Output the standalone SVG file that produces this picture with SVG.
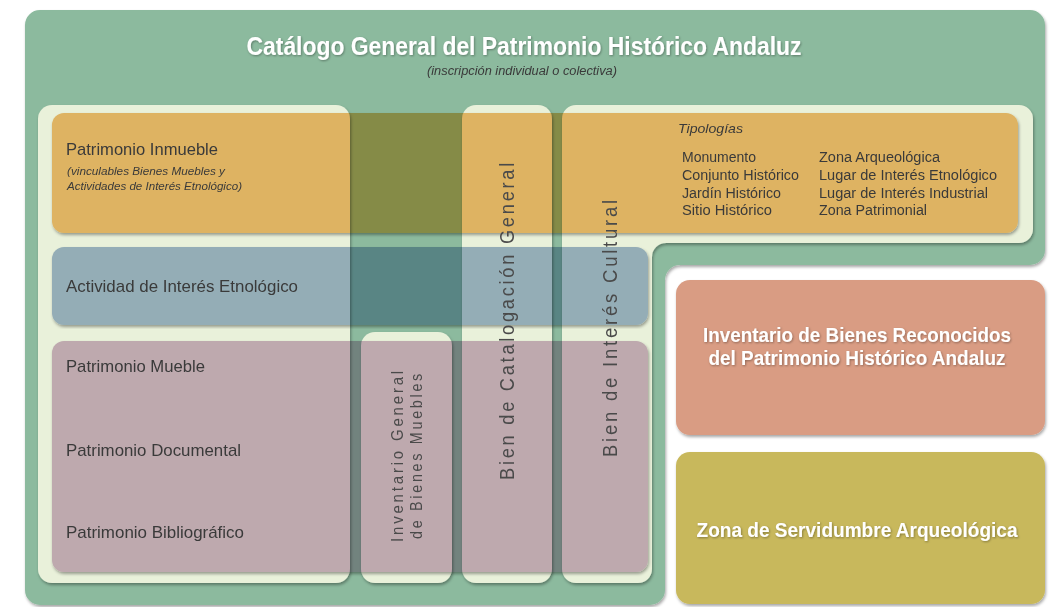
<svg xmlns="http://www.w3.org/2000/svg" width="1053" height="607" viewBox="0 0 1053 607">
<defs>
<filter id="sh" x="-5%" y="-5%" width="110%" height="110%">
<feDropShadow dx="1" dy="2" stdDeviation="1.5" flood-color="#000" flood-opacity="0.35"/>
</filter>
<filter id="tsh" x="-5%" y="-20%" width="110%" height="140%">
<feDropShadow dx="0.8" dy="1" stdDeviation="0.8" flood-color="#000" flood-opacity="0.35"/>
</filter>
</defs>
<style>
.cream{fill:#e9f1da;filter:url(#sh)}
.band{mix-blend-mode:multiply;filter:url(#sh)}
.lbl{font-family:"Liberation Sans",Arial,sans-serif;fill:#3a3a3a}
.big{font-size:17px}
.it{font-style:italic}
.vert{font-family:"Liberation Sans",Arial,sans-serif;fill:#4a4a4a;text-anchor:middle;letter-spacing:3px}
.wt{font-family:"Liberation Sans",Arial,sans-serif;font-weight:bold;fill:#ffffff;text-anchor:middle;filter:url(#tsh)}
.tip{font-size:14px}
</style>
<rect width="1053" height="607" fill="#ffffff"/>

<g id="catalogo-general">
<path d="M40,10 H1030 A15,15 0 0 1 1045,25 V250 A15,15 0 0 1 1030,265 H680 A15,15 0 0 0 665,280 V590 A15,15 0 0 1 650,605 H40 A15,15 0 0 1 25,590 V25 A15,15 0 0 1 40,10 Z" fill="#8cba9e" filter="url(#sh)"/>
<text class="wt" x="524" y="55" font-size="25" textLength="555" lengthAdjust="spacingAndGlyphs">Catálogo General del Patrimonio Histórico Andaluz</text>
<text x="522" y="75" font-family="'Liberation Sans',Arial,sans-serif" font-size="12" font-style="italic" fill="#3a3a3a" text-anchor="middle" textLength="190" lengthAdjust="spacingAndGlyphs">(inscripción individual o colectiva)</text>
</g>

<g id="marco-izquierdo">
<rect class="cream" x="38" y="105" width="312" height="478" rx="14"/>
</g>

<g id="inventario-general-bienes-muebles">
<rect class="cream" x="361" y="332" width="91" height="251" rx="14"/>
</g>

<g id="bien-catalogacion-general">
<rect class="cream" x="462" y="105" width="90" height="478" rx="14"/>
</g>

<g id="bien-interes-cultural">
<path class="cream" d="M576,105 H1019 A14,14 0 0 1 1033,119 V229 A14,14 0 0 1 1019,243 H666 A14,14 0 0 0 652,257 V569 A14,14 0 0 1 638,583 H576 A14,14 0 0 1 562,569 V119 A14,14 0 0 1 576,105 Z"/>
</g>

<g id="patrimonio-inmueble">
<rect class="band" x="52" y="113" width="966" height="120" rx="12" fill="#f3be73"/>
<text class="lbl big" x="66" y="155" textLength="152" lengthAdjust="spacingAndGlyphs">Patrimonio Inmueble</text>
<text class="lbl it" x="67" y="175" font-size="11" textLength="158" lengthAdjust="spacingAndGlyphs">(vinculables Bienes Muebles y</text>
<text class="lbl it" x="67" y="190" font-size="11" textLength="175" lengthAdjust="spacingAndGlyphs">Actividades de Interés Etnológico)</text>
</g>

<g id="actividad-interes-etnologico">
<rect class="band" x="52" y="247" width="596" height="78" rx="12" fill="#a2b7d5"/>
<text class="lbl big" x="66" y="292" textLength="232" lengthAdjust="spacingAndGlyphs">Actividad de Interés Etnológico</text>
</g>

<g id="patrimonio-mueble">
<rect class="band" x="52" y="341" width="596" height="231" rx="12" fill="#d0b3cc"/>
<text class="lbl big" x="66" y="372" textLength="139" lengthAdjust="spacingAndGlyphs">Patrimonio Mueble</text>
<text class="lbl big" x="66" y="456" textLength="175" lengthAdjust="spacingAndGlyphs">Patrimonio Documental</text>
<text class="lbl big" x="66" y="538" textLength="178" lengthAdjust="spacingAndGlyphs">Patrimonio Bibliográfico</text>
</g>

<g id="etiquetas-columnas">
<text class="vert" font-size="16" transform="translate(403,455) rotate(-90)" textLength="174" lengthAdjust="spacingAndGlyphs">Inventario General</text>
<text class="vert" font-size="16" transform="translate(422,455) rotate(-90)" textLength="168" lengthAdjust="spacingAndGlyphs">de Bienes Muebles</text>
<text class="vert" font-size="20" transform="translate(514,320) rotate(-90)" textLength="320" lengthAdjust="spacingAndGlyphs">Bien de Catalogación General</text>
<text class="vert" font-size="20" transform="translate(617,327) rotate(-90)" textLength="260" lengthAdjust="spacingAndGlyphs">Bien de Interés Cultural</text>
</g>

<g id="tipologias">
<text class="lbl it" x="678" y="133" font-size="13" textLength="65" lengthAdjust="spacingAndGlyphs">Tipologías</text>
<text class="lbl tip" x="682" y="162" textLength="74" lengthAdjust="spacingAndGlyphs">Monumento</text>
<text class="lbl tip" x="682" y="180" textLength="117" lengthAdjust="spacingAndGlyphs">Conjunto Histórico</text>
<text class="lbl tip" x="682" y="198" textLength="99" lengthAdjust="spacingAndGlyphs">Jardín Histórico</text>
<text class="lbl tip" x="682" y="215" textLength="90" lengthAdjust="spacingAndGlyphs">Sitio Histórico</text>
<text class="lbl tip" x="819" y="162" textLength="121" lengthAdjust="spacingAndGlyphs">Zona Arqueológica</text>
<text class="lbl tip" x="819" y="180" textLength="178" lengthAdjust="spacingAndGlyphs">Lugar de Interés Etnológico</text>
<text class="lbl tip" x="819" y="198" textLength="169" lengthAdjust="spacingAndGlyphs">Lugar de Interés Industrial</text>
<text class="lbl tip" x="819" y="215" textLength="108" lengthAdjust="spacingAndGlyphs">Zona Patrimonial</text>
</g>

<g id="inventario-bienes-reconocidos">
<rect x="676" y="280" width="369" height="155" rx="14" fill="#d99c83" filter="url(#sh)"/>
<text class="wt" x="857" y="342" font-size="21" textLength="308" lengthAdjust="spacingAndGlyphs">Inventario de Bienes Reconocidos</text>
<text class="wt" x="857" y="365" font-size="21" textLength="297" lengthAdjust="spacingAndGlyphs">del Patrimonio Histórico Andaluz</text>
</g>

<g id="zona-servidumbre-arqueologica">
<rect x="676" y="452" width="369" height="152" rx="14" fill="#c8b85b" filter="url(#sh)"/>
<text class="wt" x="857" y="537" font-size="21" textLength="321" lengthAdjust="spacingAndGlyphs">Zona de Servidumbre Arqueológica</text>
</g>
</svg>
